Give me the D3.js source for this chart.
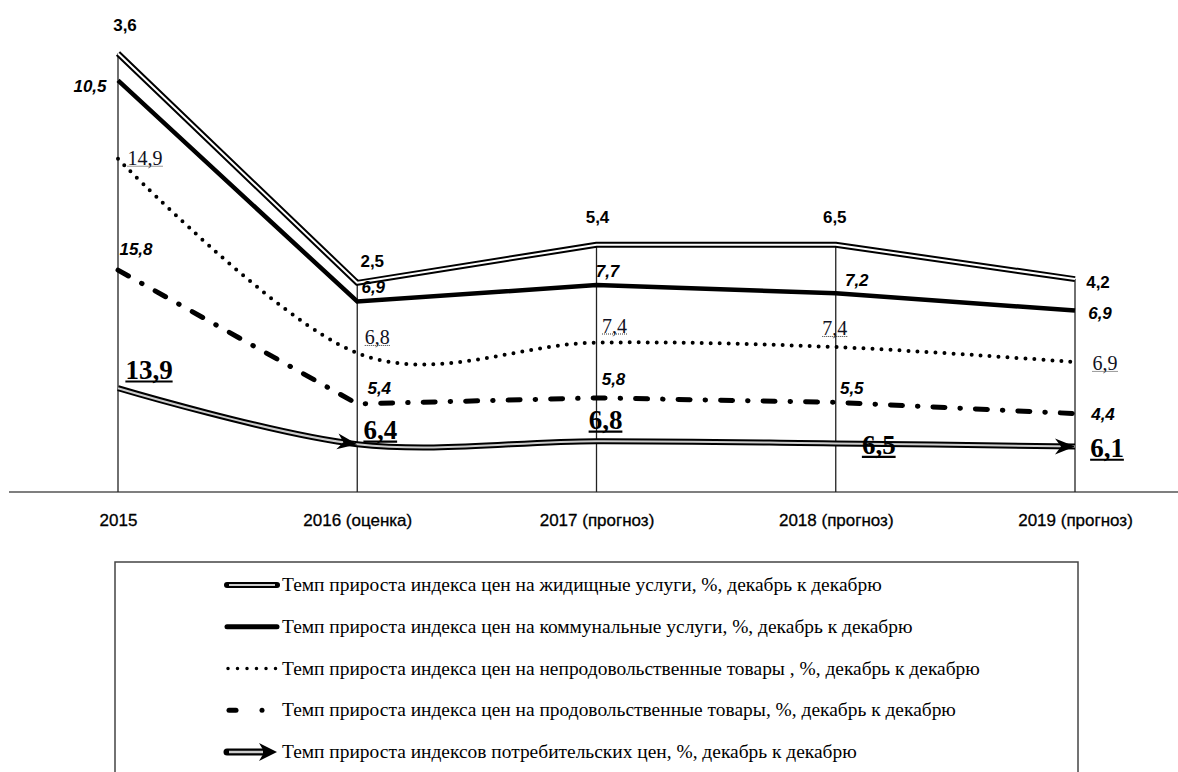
<!DOCTYPE html>
<html>
<head>
<meta charset="utf-8">
<script src="https://d3js.org/d3.v7.min.js"></script>
<style>
  body { margin: 0; background: #fff; }
</style>
</head>
<body>
<div id="chart"></div>
<script>
// categories and series values (stacked in the picture)
var years = ["2015", "2016 (оценка)", "2017 (прогноз)", "2018 (прогноз)", "2019 (прогноз)"];
var cpi      = [13.9, 6.4, 6.8, 6.5, 6.1];
var food     = [15.8, 5.4, 5.8, 5.5, 4.4];
var nonfood  = [14.9, 6.8, 7.4, 7.4, 6.9];
var communal = [10.5, 6.9, 7.7, 7.2, 6.9];
var housing  = [3.6, 2.5, 5.4, 6.5, 4.2];
var legendLabels = [
  "Темп прироста индекса цен на жидищные  услуги, %, декабрь к декабрю",
  "Темп прироста индекса цен на коммунальные услуги, %, декабрь к декабрю",
  "Темп прироста индекса цен на непродовольственные товары , %, декабрь к декабрю",
  "Темп прироста индекса цен на продовольственные товары, %, декабрь к декабрю",
  "Темп прироста индексов потребительских цен, %, декабрь к декабрю"
];

var width = 1178, height = 772;
var svg = d3.select("#chart").append("svg")
  .attr("width", width).attr("height", height)
  .style("background", "#fff");

var rows = years.map(function(y, i) {
  return {year: y, cpi: cpi[i], food: food[i], nonfood: nonfood[i], communal: communal[i], housing: housing[i]};
});
var keys = ["cpi", "food", "nonfood", "communal", "housing"];
var stacked = d3.stack().keys(keys)(rows);
var byKey = {};
stacked.forEach(function(s) { byKey[s.key] = s; });

var x = d3.scalePoint().domain(years).range([118, 1075]);
var y = d3.scaleLinear().domain([0, 60]).range([492, 492 - 60 * 7.47]);

// axis line + category labels
svg.append("line").attr("x1", 9).attr("x2", width).attr("y1", y(0)).attr("y2", y(0))
  .attr("stroke", "#555").attr("stroke-width", 1.5);

var xAxis = d3.axisBottom(x).tickSize(0).tickPadding(22);
var gx = svg.append("g").attr("transform", "translate(0," + y(0) + ")").call(xAxis);
gx.select(".domain").remove();
gx.selectAll("text")
  .style("font-family", "'Liberation Sans Narrow', 'Arial Narrow', sans-serif")
  .style("font-size", "17px")
  .style("fill", "#000")
  .style("stroke", "#000").style("stroke-width", 0.3);

// drop lines
svg.selectAll(".drop").data(byKey.housing).enter().append("line")
  .attr("x1", function(d) { return x(d.data.year); })
  .attr("x2", function(d) { return x(d.data.year); })
  .attr("y1", function(d) { return y(d[1]); })
  .attr("y2", y(0))
  .attr("stroke", "#222").attr("stroke-width", 1.3);

function pathFor(key, curve) {
  return d3.line()
    .x(function(d) { return x(d.data.year); })
    .y(function(d) { return y(d[1]); })
    .curve(curve)(byKey[key]);
}
var smooth = d3.curveCardinal.tension(0);

// food: dash-dot
svg.append("path").attr("d", pathFor("food", d3.curveLinear))
  .attr("fill", "none").attr("stroke", "#000").attr("stroke-width", 5)
  .attr("stroke-linecap", "round").attr("stroke-dasharray", "12,15,0.5,15");

// nonfood: dotted
svg.append("path").attr("d", pathFor("nonfood", smooth))
  .attr("fill", "none").attr("stroke", "#000").attr("stroke-width", 4)
  .attr("stroke-linecap", "round").attr("stroke-dasharray", "0,9");

// communal: thick solid
svg.append("path").attr("d", pathFor("communal", d3.curveLinear))
  .attr("fill", "none").attr("stroke", "#000").attr("stroke-width", 4.5);

// housing: double line
svg.append("path").attr("d", pathFor("housing", d3.curveLinear))
  .attr("fill", "none").attr("stroke", "#000").attr("stroke-width", 6).attr("stroke-linejoin", "round");
svg.append("path").attr("d", pathFor("housing", d3.curveLinear))
  .attr("fill", "none").attr("stroke", "#fff").attr("stroke-width", 2).attr("stroke-linejoin", "round");

// cpi: double line with arrows
svg.append("path").attr("d", pathFor("cpi", smooth))
  .attr("fill", "none").attr("stroke", "#000").attr("stroke-width", 6);
svg.append("path").attr("d", pathFor("cpi", smooth))
  .attr("fill", "none").attr("stroke", "#ccc").attr("stroke-width", 2);

function arrowHead(g, px, py, ang, len, half) {
  g.append("path")
    .attr("d", "M0,0 L" + (-len) + "," + (-half) + " L" + (-len * 0.7) + ",0 L" + (-len) + "," + half + " Z")
    .attr("transform", "translate(" + px + "," + py + ") rotate(" + ang + ")")
    .attr("fill", "#000");
}
var cp = byKey.cpi;
[1, 4].forEach(function(i) {
  var x0 = x(cp[i - 1].data.year), y0 = y(cp[i - 1][1]);
  var x1 = x(cp[i].data.year), y1 = y(cp[i][1]);
  var ang = i === 1 ? Math.atan2(y1 - y0, x1 - x0) * 0.6 * 180 / Math.PI : 0;
  arrowHead(svg, x1, y1, ang, 20, 8);
});

// data labels
var labelStyles = {
  housing:  {font: "'Liberation Sans', Arial, sans-serif", size: 17, weight: "bold", italic: false, color: "#000",
             off: [[7, -28], [15, -21], [1, -27], [-1, -27], [23, 3]]},
  communal: {font: "'Liberation Sans', Arial, sans-serif", size: 17, weight: "bold", italic: true, color: "#000",
             off: [[-28, 6], [16, -14], [11, -14], [21, -13], [25, 3]]},
  nonfood:  {font: "'Liberation Serif', 'Times New Roman', serif", size: 20, weight: "normal", italic: false, color: "#111122",
             off: [[27, -1], [20, -16], [18, -17], [-1, -19], [30, 1]], dotted: true},
  food:     {font: "'Liberation Sans', Arial, sans-serif", size: 17, weight: "bold", italic: true, color: "#000",
             off: [[18, -21], [22, -15], [17, -18], [16, -14], [28, 1]]},
  cpi:      {font: "'Liberation Serif', 'Times New Roman', serif", size: 27, weight: "bold", italic: false, color: "#000",
             off: [[31, -18], [23, -14], [9, -21], [43, 2], [32, 2]], underline: true}
};

keys.forEach(function(k) {
  var st = labelStyles[k];
  byKey[k].forEach(function(d, i) {
    var v = d.data[k];
    var px = x(d.data.year) + st.off[i][0];
    var py = y(d[1]) + st.off[i][1];
    var t = svg.append("text")
      .attr("x", px).attr("y", py)
      .attr("text-anchor", "middle").attr("dominant-baseline", "central")
      .style("font-family", st.font).style("font-size", st.size + "px")
      .style("font-weight", st.weight).style("font-style", st.italic ? "italic" : "normal")
      .style("fill", st.color)
      .text(d3.format(".1f")(v).replace(".", ","));
    if (st.dotted || st.underline) {
      var w = t.node().getComputedTextLength();
      svg.append("line")
        .attr("x1", px - w / 2).attr("x2", px + w / 2)
        .attr("y1", py + st.size * 0.42).attr("y2", py + st.size * 0.42)
        .attr("stroke", st.dotted ? "#333" : "#000")
        .attr("stroke-width", st.dotted ? 1 : 2.2)
        .attr("stroke-dasharray", st.dotted ? "1,1" : null);
    }
  });
});

// legend
var lg = svg.append("g");
lg.append("rect").attr("x", 115).attr("y", 562).attr("width", 963).attr("height", 230)
  .attr("fill", "none").attr("stroke", "#444").attr("stroke-width", 1.5);

var legendY = d3.scalePoint().domain(d3.range(5)).range([585, 752]);
var lx0 = 227, lx1 = 277;
var legendKeys = ["housing", "communal", "nonfood", "food", "cpi"];
legendKeys.forEach(function(k, i) {
  var ly = legendY(i);
  if (k === "housing") {
    lg.append("line").attr("x1", lx0).attr("x2", lx1).attr("y1", ly).attr("y2", ly)
      .attr("stroke", "#000").attr("stroke-width", 6).attr("stroke-linecap", "round");
    lg.append("line").attr("x1", lx0 + 2).attr("x2", lx1 - 2).attr("y1", ly).attr("y2", ly)
      .attr("stroke", "#ccc").attr("stroke-width", 2);
  } else if (k === "communal") {
    lg.append("line").attr("x1", lx0).attr("x2", lx1).attr("y1", ly).attr("y2", ly)
      .attr("stroke", "#000").attr("stroke-width", 5).attr("stroke-linecap", "round");
  } else if (k === "nonfood") {
    lg.append("line").attr("x1", lx0 + 1).attr("x2", lx1).attr("y1", ly).attr("y2", ly)
      .attr("stroke", "#000").attr("stroke-width", 3.5).attr("stroke-linecap", "round")
      .attr("stroke-dasharray", "0,9.5");
  } else if (k === "food") {
    lg.append("line").attr("x1", lx0 + 2).attr("x2", lx0 + 9).attr("y1", ly).attr("y2", ly)
      .attr("stroke", "#000").attr("stroke-width", 5).attr("stroke-linecap", "round");
    lg.append("circle").attr("cx", lx0 + 35).attr("cy", ly).attr("r", 2.5).attr("fill", "#000");
  } else {
    lg.append("line").attr("x1", lx0).attr("x2", lx1 - 14).attr("y1", ly).attr("y2", ly)
      .attr("stroke", "#000").attr("stroke-width", 7).attr("stroke-linecap", "round");
    lg.append("line").attr("x1", lx0 + 2).attr("x2", lx1 - 14).attr("y1", ly).attr("y2", ly)
      .attr("stroke", "#ccc").attr("stroke-width", 2.5);
    arrowHead(lg, lx1, ly, 0, 18, 9);
  }
  var t = lg.append("text").attr("x", 282).attr("y", ly).attr("dominant-baseline", "central")
    .style("font-family", "'Liberation Serif', 'Times New Roman', serif")
    .style("font-size", "18px").style("fill", "#000")
    .text(legendLabels[i]);
  // the original text is drawn wider than the font would set it
  var w = t.node().getComputedTextLength();
  t.attr("textLength", w * 1.08).attr("lengthAdjust", "spacingAndGlyphs");
});
</script>
</body>
</html>
